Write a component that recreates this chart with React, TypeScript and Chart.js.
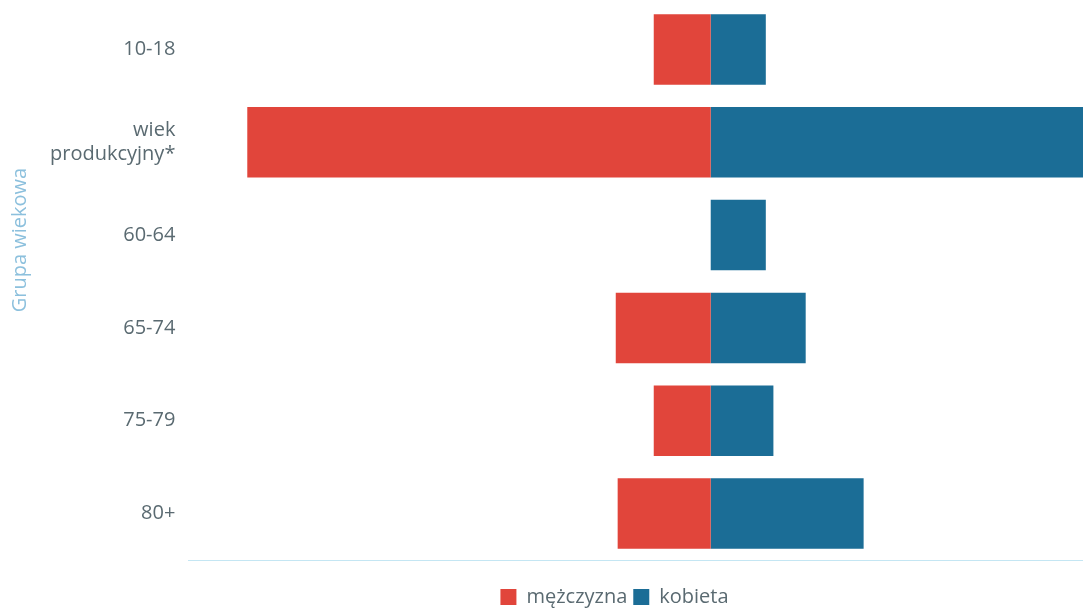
import React, { useEffect, useRef } from "react";
import { Chart, registerables } from "chart.js";

Chart.register(...registerables);

const categories: (string | string[])[] = ["10-18", ["wiek", "produkcyjny*"], "60-64", "65-74", "75-79", "80+"];
const mezczyzna = [-3.0, -24.4, 0, -5.0, -3.0, -4.9];
const kobieta = [2.9, 27.0, 2.9, 5.0, 3.3, 8.05];
const seriesNames = ["mężczyzna", "kobieta"];
const axisTitle = "Grupa wiekowa";
const xMin = -27.5;
const xMax = 19.6;

const yTitlePlugin = {
  id: "yTitle",
  afterDraw(chart: any) {
    const ctx = chart.ctx;
    ctx.save();
    ctx.translate(20, 240);
    ctx.rotate(-Math.PI / 2);
    ctx.fillStyle = "#8cc0dd";
    ctx.font = "20px 'Open Sans'";
    ctx.textAlign = "center";
    ctx.textBaseline = "middle";
    ctx.fillText(axisTitle, 0, 0);
    ctx.restore();
  },
};

const legendShift = {
  id: "legendShift",
  afterLayout(chart: any) {
    const lg = chart.legend;
    if (!lg) return;
    lg.left = 146;
    lg.right = 1083;
    lg.top += 21;
    lg.bottom += 21;
  },
};

export default function App() {
  const ref = useRef<HTMLCanvasElement>(null);
  useEffect(() => {
    if (!ref.current) return;
    const chart = new Chart(ref.current, {
      type: "bar",
      data: {
        labels: categories,
        datasets: [
          { label: seriesNames[0], data: mezczyzna, backgroundColor: "#e1453b", borderWidth: 0 },
          { label: seriesNames[1], data: kobieta, backgroundColor: "#1b6d96", borderWidth: 0 },
        ],
      },
      plugins: [yTitlePlugin, legendShift],
      options: {
        animation: false,
        responsive: true,
        maintainAspectRatio: false,
        indexAxis: "y",
        layout: { padding: { top: 3, right: 0, left: 37, bottom: 13 } },
        datasets: { bar: { barPercentage: 0.76, categoryPercentage: 1 } },
        scales: {
          x: {
            stacked: true,
            min: xMin,
            max: xMax,
            ticks: { display: false },
            grid: { display: false, drawTicks: false },
            border: { display: true, color: "#c4e6f3", dash: [2, 2], width: 1 },
          },
          y: {
            stacked: true,
            grid: { display: false, drawTicks: false },
            border: { display: false },
            afterFit(scale: any) {
              scale.paddingTop = 0;
              scale.paddingBottom = 0;
            },
            ticks: {
              color: "#5a6a71",
              font: { family: "Open Sans", size: 20 },
              padding: 13,
            },
          },
        },
        plugins: {
          legend: {
            position: "bottom",
            labels: {
              boxWidth: 16,
              boxHeight: 16,
              padding: 6,
              color: "#5a6a71",
              font: { family: "Open Sans", size: 20 },
            },
          },
          tooltip: { enabled: false },
        },
      },
    });
    return () => chart.destroy();
  }, []);
  return (
    <div style={{ position: "fixed", left: 0, top: 0, width: 1083, height: 609, background: "#fff" }}>
      <canvas ref={ref} />
    </div>
  );
}
